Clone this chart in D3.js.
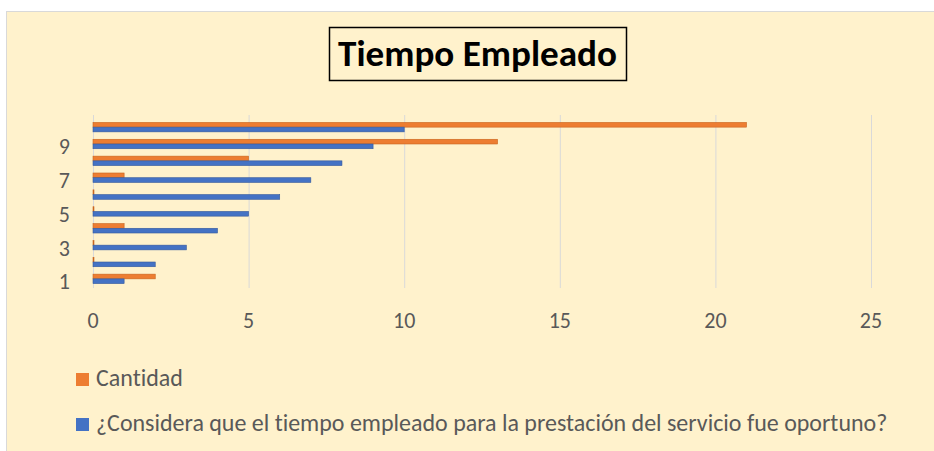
<!DOCTYPE html>
<html>
<head>
    <title>Tiempo Empleado</title>
    <script src="https://cdnjs.cloudflare.com/ajax/libs/d3/7.8.5/d3.min.js"></script>
    <style>
        body {
            margin: 0;
            background: #ffffff;
        }
        svg text {
            font-family: Carlito, "Liberation Sans Narrow", "Open Sans", sans-serif;
            font-variant-ligatures: none;
        }
    </style>
</head>
<body>
    <svg id="chart" width="934" height="451"></svg>

    <script>
        // Datos
        const categorias = ["1", "2", "3", "4", "5", "6", "7", "8", "9", "10"];
        const etiquetasY = ["1", "3", "5", "7", "9"];
        const ticksX = [0, 5, 10, 15, 20, 25];
        const serieConsidera = [1, 2, 3, 4, 5, 6, 7, 8, 9, 10];
        const serieCantidad = [2, 0, 0, 1, 0, 0, 1, 5, 13, 21];
        const series = [
            {nombre: "Cantidad", valores: serieCantidad, color: "#ED7D31", borde: "#c8651f"},
            {nombre: "¿Considera que el tiempo empleado para la prestación del servicio fue oportuno?", valores: serieConsidera, color: "#4472C4", borde: "#35599c"}
        ];

        const svg = d3.select("#chart");

        // Fondo del área del gráfico
        svg.append("rect")
            .attr("x", 6.5)
            .attr("y", 11.5)
            .attr("width", 940)
            .attr("height", 450)
            .attr("fill", "#FFF2CC")
            .attr("stroke", "#d9d9d9");

        // Escalas
        const x = d3.scaleLinear()
            .domain([0, 25])
            .range([93, 871]);

        const y = d3.scaleBand()
            .domain(categorias.slice().reverse())
            .range([115, 291])
            .padding(0.44);

        // orden dentro de cada categoría: Cantidad arriba, Considera abajo
        const ySub = d3.scaleBand()
            .domain(series.map(s => s.nombre))
            .range([0, y.bandwidth()]);

        // Líneas de cuadrícula
        svg.append("g")
            .selectAll("line")
            .data(ticksX)
            .join("line")
            .attr("x1", d => x(d) + 0.5)
            .attr("x2", d => x(d) + 0.5)
            .attr("y1", 115)
            .attr("y2", 288)
            .attr("stroke", "#d9d9d9")
            .attr("stroke-width", 1);

        // Barras
        series.forEach(s => {
            svg.append("g")
                .selectAll("rect")
                .data(categorias)
                .join("rect")
                .attr("x", x(0))
                .attr("y", (d, i) => y(d) + ySub(s.nombre))
                .attr("width", (d, i) => Math.max(1, x(s.valores[i]) - x(0)))
                .attr("height", ySub.bandwidth())
                .attr("fill", (d, i) => s.valores[i] === 0 ? s.borde : s.color)
                .attr("stroke", s.borde)
                .attr("stroke-width", 0.6);
        });

        // Eje Y (solo etiquetas)
        svg.append("g")
            .selectAll("text")
            .data(etiquetasY)
            .join("text")
            .attr("x", 70)
            .attr("y", d => y(d) + y.bandwidth() / 2 + 10.5)
            .attr("text-anchor", "end")
            .attr("font-size", 22)
            .attr("fill", "#595959")
            .text(d => d);

        // Eje X (solo etiquetas)
        svg.append("g")
            .selectAll("text")
            .data(ticksX)
            .join("text")
            .attr("x", d => x(d))
            .attr("y", 328)
            .attr("text-anchor", "middle")
            .attr("font-size", 22)
            .attr("fill", "#595959")
            .text(d => d);

        // Título con recuadro
        svg.append("rect")
            .attr("x", 329.5)
            .attr("y", 27.5)
            .attr("width", 297)
            .attr("height", 53)
            .attr("fill", "none")
            .attr("stroke", "#000")
            .attr("stroke-width", 1.5);

        const titulo = svg.append("text")
            .attr("x", 477.5)
            .attr("y", 66)
            .attr("text-anchor", "middle")
            .attr("font-size", 34)
            .attr("font-weight", "bold")
            .attr("fill", "#000")
            .text("Tiempo Empleado");
        // ajustar ancho del título al original (~279px)
        const wt = titulo.node().getComputedTextLength();
        if (wt > 0) titulo.attr("font-size", 34 * 279 / wt);

        // Leyenda
        const leyenda = svg.append("g");
        series.forEach((s, i) => {
            const yy = 373 + i * 45;
            leyenda.append("rect")
                .attr("x", 76)
                .attr("y", yy)
                .attr("width", 13)
                .attr("height", 13)
                .attr("fill", s.color);
            leyenda.append("text")
                .attr("x", 96)
                .attr("y", yy + 13)
                .attr("font-size", 22)
                .attr("fill", "#595959")
                .text(s.nombre);
        });
        // ajustar ancho de la leyenda larga (~792px)
        const largo = leyenda.selectAll("text").nodes()[1];
        const wl = largo.getComputedTextLength();
        if (wl > 0) leyenda.selectAll("text").attr("font-size", 22 * 792 / wl);
    </script>
</body>
</html>
